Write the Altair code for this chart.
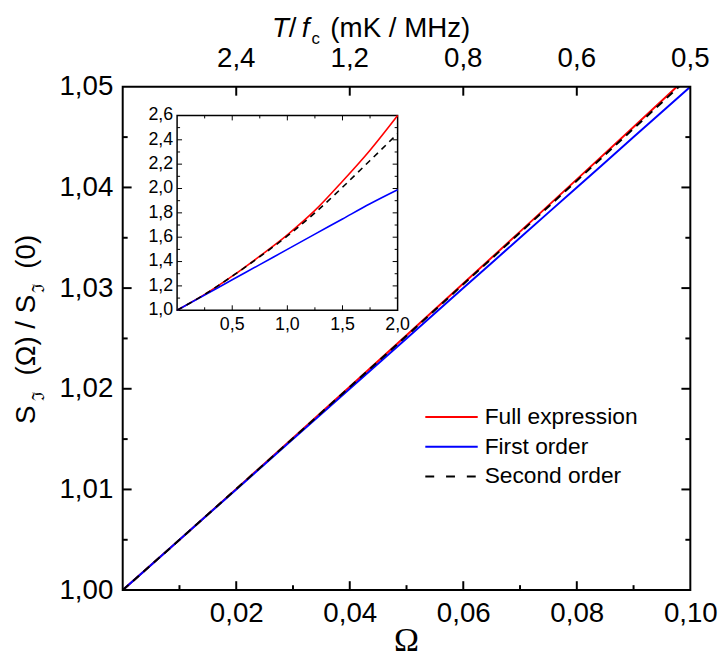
import altair as alt
import pandas as pd

# ---------------- data ----------------
omega_main = [0.00, 0.01, 0.02, 0.03, 0.04, 0.05, 0.06, 0.07, 0.08, 0.09, 0.10]
full_main = [1.0000, 1.0050, 1.01005, 1.01511, 1.0202, 1.02531, 1.03045, 1.03561, 1.0408, 1.04601, 1.05125]
first_main = [1.0000, 1.0050, 1.0100, 1.0150, 1.0200, 1.0250, 1.0300, 1.0350, 1.0400, 1.0450, 1.0500]
second_main = [1.0000, 1.0050, 1.01004, 1.01509, 1.02017, 1.02526, 1.03038, 1.03551, 1.04067, 1.04585, 1.05105]

omega_inset = [0.0, 0.25, 0.5, 0.75, 1.0, 1.25, 1.5, 1.75, 2.0]
full_inset = [1.0, 1.13, 1.28, 1.445, 1.62, 1.82, 2.06, 2.315, 2.6]
first_inset = [1.0, 1.125, 1.25, 1.375, 1.5, 1.625, 1.75, 1.875, 1.99]
second_inset = [1.0, 1.13, 1.28, 1.44, 1.61, 1.80, 2.01, 2.23, 2.45]

x_major = [0.02, 0.04, 0.06, 0.08, 0.10]
x_minor = [0.01, 0.03, 0.05, 0.07, 0.09]
y_major = [1.00, 1.01, 1.02, 1.03, 1.04, 1.05]
y_minor = [1.005, 1.015, 1.025, 1.035, 1.045]
top_labels = ["2,4", "1,2", "0,8", "0,6", "0,5"]

ix_major = [0.5, 1.0, 1.5, 2.0]
ix_labels = ["0,5", "1,0", "1,5", "2,0"]
ix_minor = [0.25, 0.75, 1.25, 1.75]
iy_major = [1.0, 1.2, 1.4, 1.6, 1.8, 2.0, 2.2, 2.4, 2.6]
iy_labels = ["1,0", "1,2", "1,4", "1,6", "1,8", "2,0", "2,2", "2,4", "2,6"]
iy_minor = [1.1, 1.3, 1.5, 1.7, 1.9, 2.1, 2.3, 2.5]

series_names = ["Full expression", "First order", "Second order"]
series_colors = ["#ff0000", "#0000ff", "#000000"]

W, H = 574, 509
FONT = "Liberation Sans, Arial, DejaVu Sans"

xs = alt.Scale(domain=[0, 0.1], nice=False, zero=False)
ys = alt.Scale(domain=[1.0, 1.05], nice=False, zero=False)
x_axis = alt.Axis(values=x_major, labelExpr="replace(format(datum.value, '.2f'), '.', ',')",
                  ticks=False, domain=False, grid=False, title=None, labelFontSize=28,
                  labelFont=FONT, labelColor="black", labelPadding=10, labelOverlap=False,
                  labelFlush=False)
y_axis = alt.Axis(values=y_major, labelExpr="replace(format(datum.value, '.2f'), '.', ',')",
                  ticks=False, domain=False, grid=False, title=None, labelFontSize=28,
                  labelFont=FONT, labelColor="black", labelPadding=10, labelOverlap=False,
                  labelFlush=False)


def X(field):
    return alt.X(field, type="quantitative", scale=xs, axis=x_axis)


def Y(field):
    return alt.Y(field, type="quantitative", scale=ys, axis=y_axis)


main_parts = []
for vals, col, dash in [(full_main, series_colors[0], None),
                        (first_main, series_colors[1], None),
                        (second_main, series_colors[2], [8, 6])]:
    df = pd.DataFrame({"omega": omega_main, "s": vals})
    kw = dict(color=col, strokeWidth=2, clip=True, interpolate="monotone")
    if dash:
        kw["strokeDash"] = dash
    main_parts.append(alt.Chart(df).mark_line(**kw).encode(x=X("omega"), y=Y("s")))

# frame of the main plot
main_parts.append(alt.Chart(pd.DataFrame({"k": [0]})).mark_rect(
    fillOpacity=0, stroke="#000000", strokeWidth=2, strokeOpacity=1).encode(
    x=alt.value(0), x2=alt.value(W), y=alt.value(0), y2=alt.value(H)))


# inward ticks of the main frame
def xticks(vals, y0, y1):
    return alt.Chart(pd.DataFrame({"v": vals})).mark_rule(color="#000000", strokeWidth=2).encode(
        x=X("v"), y=alt.value(y0), y2=alt.value(y1))


def yticks(vals, x0, x1):
    return alt.Chart(pd.DataFrame({"v": vals})).mark_rule(color="#000000", strokeWidth=2).encode(
        y=Y("v"), x=alt.value(x0), x2=alt.value(x1))


main_parts += [
    xticks(x_major[:-1], H, H - 9), xticks(x_minor, H, H - 5),
    xticks(x_major[:-1], 0, 9),
    yticks(y_major[1:-1], 0, 9), yticks(y_minor, 0, 5),
    yticks(y_major[1:-1], W, W - 9), yticks(y_minor, W, W - 5),
]

# top axis labels (T / f_c)
top_df = pd.DataFrame({"v": x_major, "lab": top_labels})
main_parts.append(alt.Chart(top_df).mark_text(fontSize=28, font=FONT, color="black", baseline="middle").encode(
    x=X("v"), y=alt.value(-28), text="lab:N"))


def txt(s, x, y, size, **kw):
    return alt.Chart(pd.DataFrame({"t": [s]})).mark_text(fontSize=size, color="black", **kw).encode(
        x=alt.value(x), y=alt.value(y), text="t:N")


# top title
TB = -50
main_parts += [
    txt("T", 151, TB, 28, font=FONT, fontStyle="italic", align="left", baseline="alphabetic"),
    txt("/", 168, TB, 28, font=FONT, align="left", baseline="alphabetic"),
    txt("f", 181, TB, 28, font=FONT, fontStyle="italic", align="left", baseline="alphabetic"),
    txt("c", 191, TB + 7, 17, font=FONT, align="left", baseline="alphabetic"),
    txt("(mK / MHz)", 210, TB, 28, font=FONT, align="left", baseline="alphabetic"),
]
# bottom title
main_parts.append(txt("Ω", W / 2, H + 52, 34, font="Liberation Serif, Times New Roman, serif",
                      align="center", baseline="middle"))
# y title (rotated pieces)
main_parts += [
    txt("S", -89, 341, 28, font=FONT, angle=270, align="left", baseline="alphabetic"),
    txt("ℑ", -80, 318, 17, font="DejaVu Serif, serif", angle=270, align="left", baseline="alphabetic"),
    txt("(Ω) / S", -89, 292, 28, font=FONT, angle=270, align="left", baseline="alphabetic"),
    txt("ℑ", -80, 209, 17, font="DejaVu Serif, serif", angle=270, align="left", baseline="alphabetic"),
    txt("(0)", -89, 184, 28, font=FONT, angle=270, align="left", baseline="alphabetic"),
]

# legend
legend_rows = [334, 364, 394]
for name, col, yy in zip(series_names, series_colors, legend_rows):
    df = pd.DataFrame({"t": [name]})
    kw = dict(color=col, strokeWidth=2)
    if name == "Second order":
        kw["strokeDash"] = [9, 12]
    main_parts.append(alt.Chart(df).mark_rule(**kw).encode(
        x=alt.value(306), x2=alt.value(359), y=alt.value(yy)))
    main_parts.append(txt(name, 366, yy, 23, font=FONT, align="left", baseline="middle"))

main = alt.layer(*main_parts)

# ---------------- inset ----------------
IX0, IX1, IY0, IY1 = 55, 278, 226, 29
xi = alt.Scale(domain=[0, 2], range=[IX0, IX1], nice=False, zero=False)
yi = alt.Scale(domain=[1.0, 2.6], range=[IY0, IY1], nice=False, zero=False)


def XI(f):
    return alt.X(f, type="quantitative", scale=xi, axis=None)


def YI(f):
    return alt.Y(f, type="quantitative", scale=yi, axis=None)


inset_parts = [
    alt.Chart(pd.DataFrame({"a": [0.0], "b": [2.0], "c": [1.0], "d": [2.6]})).mark_rect(
        fill="white", stroke="black", strokeWidth=1.5).encode(x=XI("a"), x2="b:Q", y=YI("c"), y2="d:Q")
]
for vals, col, dash in [(full_inset, series_colors[0], None),
                        (first_inset, series_colors[1], None),
                        (second_inset, series_colors[2], [6, 5])]:
    df = pd.DataFrame({"omega": omega_inset, "s": vals})
    kw = dict(color=col, strokeWidth=1.6, interpolate="monotone")
    if dash:
        kw["strokeDash"] = dash
    inset_parts.append(alt.Chart(df).mark_line(**kw).encode(x=XI("omega"), y=YI("s")))


def ixt(vals, y0, y1):
    return alt.Chart(pd.DataFrame({"v": vals})).mark_rule(color="black", strokeWidth=1).encode(
        x=XI("v"), y=alt.value(y0), y2=alt.value(y1))


def iyt(vals, x0, x1):
    return alt.Chart(pd.DataFrame({"v": vals})).mark_rule(color="black", strokeWidth=1).encode(
        y=YI("v"), x=alt.value(x0), x2=alt.value(x1))


inset_parts += [
    ixt(ix_major[:-1], IY0, IY0 - 5), ixt(ix_minor, IY0, IY0 - 3),
    ixt(ix_major[:-1], IY1, IY1 + 5), ixt(ix_minor, IY1, IY1 + 3),
    iyt(iy_major[1:-1], IX0, IX0 + 5), iyt(iy_minor, IX0, IX0 + 3),
    iyt(iy_major[1:-1], IX1, IX1 - 5), iyt(iy_minor, IX1, IX1 - 3),
    alt.Chart(pd.DataFrame({"v": ix_major, "lab": ix_labels})).mark_text(
        fontSize=18, font=FONT, color="black", baseline="middle").encode(
        x=XI("v"), y=alt.value(IY0 + 15), text="lab:N"),
    alt.Chart(pd.DataFrame({"v": iy_major, "lab": iy_labels})).mark_text(
        fontSize=18, font=FONT, color="black", baseline="middle", align="right").encode(
        y=YI("v"), x=alt.value(IX0 - 4), text="lab:N"),
]
inset = alt.layer(*inset_parts)

chart = alt.layer(main, inset).resolve_scale(x="independent", y="independent").properties(
    width=W, height=H,
    background="white",
    autosize=alt.AutoSizeParams(type="none"),
    padding={"left": 116, "top": 76, "right": 29, "bottom": 65},
).configure_view(strokeWidth=0)

chart.save("out.html", embed_options={"renderer": "svg", "actions": False})
